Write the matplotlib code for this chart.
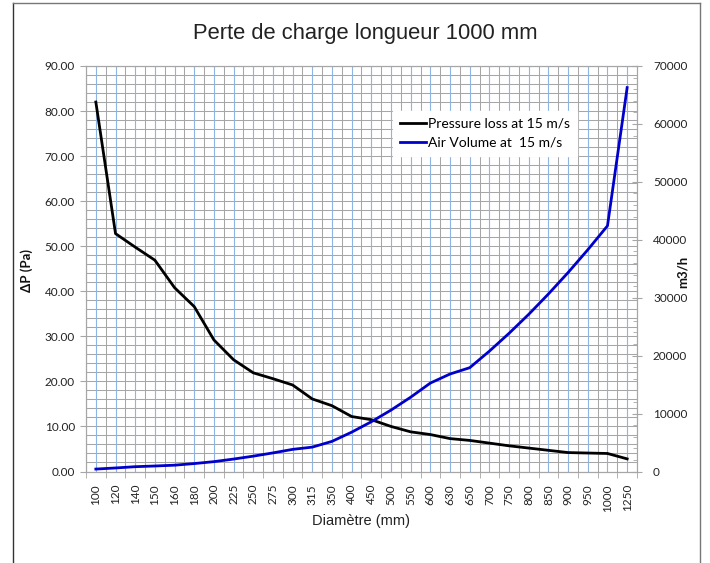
import matplotlib
matplotlib.use("Agg")
import matplotlib.pyplot as plt
from matplotlib.lines import Line2D
from matplotlib.ticker import MultipleLocator, FixedLocator
import numpy as np

diametres = ["100", "120", "140", "150", "160", "180", "200", "225", "250", "275",
             "300", "315", "350", "400", "450", "500", "550", "600", "630", "650",
             "700", "750", "800", "850", "900", "950", "1000", "1250"]
pressure_loss = [82.0, 52.8, 49.8, 46.9, 40.8, 36.6, 29.2, 24.8, 21.9, 20.6,
                 19.2, 16.1, 14.6, 12.2, 11.5, 10.0, 8.8, 8.2, 7.3, 6.9,
                 6.3, 5.7, 5.2, 4.7, 4.2, 4.1, 4.0, 2.8]
air_volume = [420, 610, 830, 950, 1090, 1370, 1700, 2150, 2650, 3210,
              3820, 4210, 5200, 6790, 8590, 10600, 12830, 15270, 16830, 17920,
              20780, 23860, 27140, 30650, 34350, 38280, 42410, 66270]

W, H = 710, 563
fig = plt.figure(figsize=(W / 100, H / 100), dpi=100)
L, R, T, B = 86, 637, 66, 471.5
ax = fig.add_axes([L / W, 1 - B / H, (R - L) / W, (B - T) / H])
ax2 = ax.twinx()

x = np.arange(len(diametres))
n = len(diametres)

grid_gray = "#a6a6a6"
grid_blue = "#8db4e2"
txt = "#222222"
tick_font = "Lato"

ax.set_ylim(0, 90)
ax.set_xlim(-0.5, n - 0.5)
ax2.set_ylim(0, 70000)

# grid
for v in np.arange(0, 90.1, 2):
    ax.axhline(v, color=grid_gray, lw=0.75, zorder=0)
for b in np.arange(-0.5, n, 1.0):
    ax.axvline(b, color=grid_gray, lw=0.75, zorder=0)
for c in x:
    ax.axvline(c, color=grid_blue, lw=0.8, zorder=0.5)

# series
l1, = ax.plot(x, pressure_loss, color="black", lw=2.0, zorder=3,
              label="Pressure loss at 15 m/s")
l2, = ax2.plot(x, air_volume, color="#0000cc", lw=2.0, zorder=3,
               label="Air Volume at  15 m/s")
ax2.set_zorder(ax.get_zorder() + 1)
ax2.patch.set_visible(False)

ax.set_yticks(np.arange(0, 90.1, 10))
ax.set_yticklabels([f"{v:.2f}" for v in np.arange(0, 90.1, 10)],
                   fontfamily=tick_font, fontsize=8.5, color=txt)
ax.tick_params(axis="y", direction="out", length=4, color=grid_gray, pad=4)

ax.set_xticks(x)
ax.set_xticklabels(diametres, rotation=90, fontfamily=tick_font, fontsize=8.5,
                   color=txt)
ax.xaxis.set_minor_locator(FixedLocator(np.arange(-0.5, n, 1.0)))
ax.tick_params(axis="x", which="major", length=0, pad=9)
ax.tick_params(axis="x", which="minor", direction="out", length=4, color=grid_gray)

ax2.set_yticks(np.arange(0, 70001, 10000))
ax2.set_yticklabels([str(v) for v in range(0, 70001, 10000)],
                    fontfamily=tick_font, fontsize=8.5, color=txt)
ax2.yaxis.set_minor_locator(MultipleLocator(2000))
ax2.tick_params(axis="y", which="major", direction="inout", length=7, color=grid_gray, pad=8)
ax2.tick_params(axis="y", which="minor", direction="in", length=3, color=grid_gray)

for a in (ax, ax2):
    for s in a.spines.values():
        s.set_color(grid_gray)
        s.set_linewidth(0.8)

ax.set_xlabel("Diamètre (mm)", fontfamily="Liberation Sans", fontsize=10.5,
              color=txt, labelpad=2)

fig.text(27 / W, 1 - 270 / H, "ΔP (Pa)", fontfamily=tick_font, fontweight="bold",
         fontsize=9.5, color="#111111", rotation=90, ha="center", va="center")
fig.text(683 / W, 1 - 272 / H, "m3/h", fontfamily=tick_font, fontweight="bold",
         fontsize=9.5, color="#111111", rotation=90, ha="center", va="center")

fig.text(365 / W, 1 - 33 / H, "Perte de charge longueur 1000 mm",
         fontfamily="Liberation Sans", fontsize=15.8, color=txt,
         ha="center", va="center")

leg = ax2.legend(handles=[l1, l2], loc="upper left",
                 bbox_to_anchor=(393 / W, 1 - 111 / H), bbox_transform=fig.transFigure,
                 prop={"family": tick_font, "size": 10}, frameon=True,
                 fancybox=False, edgecolor="white", facecolor="white", framealpha=1,
                 handlelength=1.9, handletextpad=0.15, borderpad=0.5,
                 labelspacing=0.5, borderaxespad=0)
leg.set_zorder(10)

# outer frame
fig.add_artist(Line2D([13 / W, 13 / W], [0, 1 - 3 / H], color="#333333", lw=1.0))
fig.add_artist(Line2D([700 / W, 700 / W], [0, 1 - 3 / H], color="#777777", lw=1.0))
fig.add_artist(Line2D([13 / W, 700 / W], [1 - 3 / H, 1 - 3 / H], color="#777777", lw=1.0))

fig.savefig("out.png", dpi=100)
